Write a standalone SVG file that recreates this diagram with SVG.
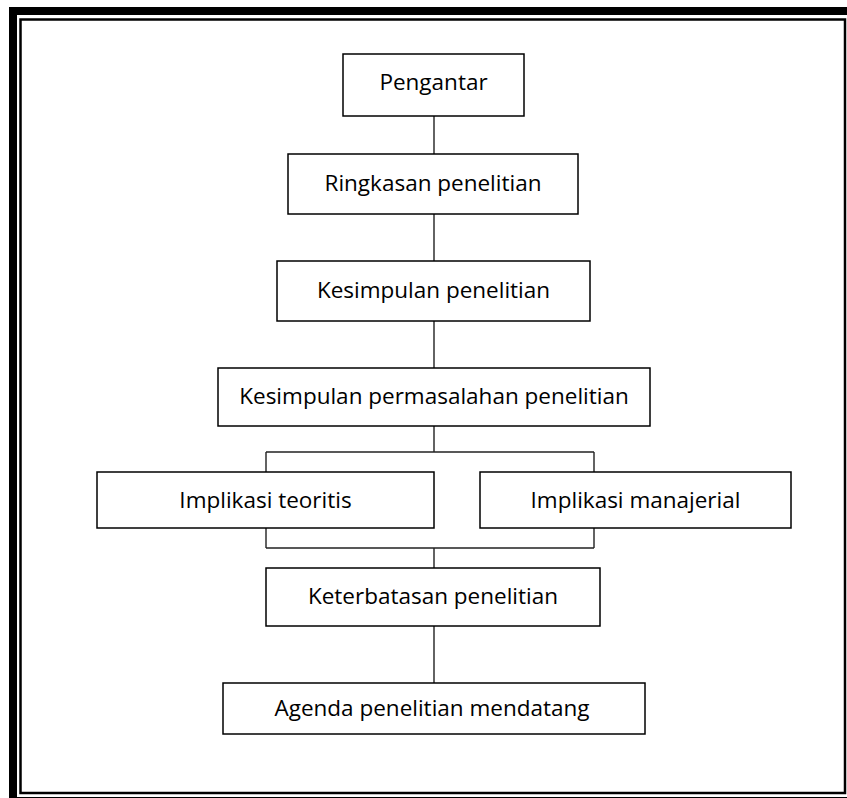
<svg xmlns="http://www.w3.org/2000/svg" width="847" height="798" viewBox="0 0 847 798">
  <style>
    .box rect { fill: #fff; stroke: #000; stroke-width: 1.5; }
    .box text { font-family: "Open Sans", "Noto Sans", sans-serif; font-size: 22.5px; fill: #000; text-anchor: middle; }
    #connectors path { fill: none; stroke: #222; stroke-width: 1.4; }
    .frame { fill: none; stroke: #000; }
  </style>
  <rect width="847" height="798" fill="#fff"/>

  <!-- double page frame -->
  <rect class="frame" x="13" y="11" width="842" height="790" stroke-width="8"/>
  <rect class="frame" x="20.5" y="19.5" width="824.5" height="773.5" stroke-width="2.5"/>

  <g id="connectors">
    <path d="M434 116 V154"/>
    <path d="M434 214 V261"/>
    <path d="M434 321 V368"/>
    <path d="M434 426 V452 M266 452 H594 M266 452 V472 M594 452 V472"/>
    <path d="M266 528 V548 M594 528 V548 M266 548 H594 M434 548 V568"/>
    <path d="M434 626 V683"/>
  </g>

  <g id="pengantar" class="box">
    <rect x="343" y="54" width="181" height="62"/>
    <text x="433.5" y="90">Pengantar</text>
  </g>
  <g id="ringkasan" class="box">
    <rect x="288" y="154" width="290" height="60"/>
    <text x="433" y="191">Ringkasan penelitian</text>
  </g>
  <g id="kesimpulan" class="box">
    <rect x="277" y="261" width="313" height="60"/>
    <text x="433.5" y="298">Kesimpulan penelitian</text>
  </g>
  <g id="kesimpulan-permasalahan" class="box">
    <rect x="218" y="368" width="432" height="58"/>
    <text x="434" y="404">Kesimpulan permasalahan penelitian</text>
  </g>
  <g id="implikasi-teoritis" class="box">
    <rect x="97" y="472" width="337" height="56"/>
    <text x="265.5" y="508">Implikasi teoritis</text>
  </g>
  <g id="implikasi-manajerial" class="box">
    <rect x="480" y="472" width="311" height="56"/>
    <text x="635.5" y="508">Implikasi manajerial</text>
  </g>
  <g id="keterbatasan" class="box">
    <rect x="266" y="568" width="334" height="58"/>
    <text x="433" y="604">Keterbatasan penelitian</text>
  </g>
  <g id="agenda" class="box">
    <rect x="223" y="683" width="422" height="51"/>
    <text x="432" y="716">Agenda penelitian mendatang</text>
  </g>
</svg>
